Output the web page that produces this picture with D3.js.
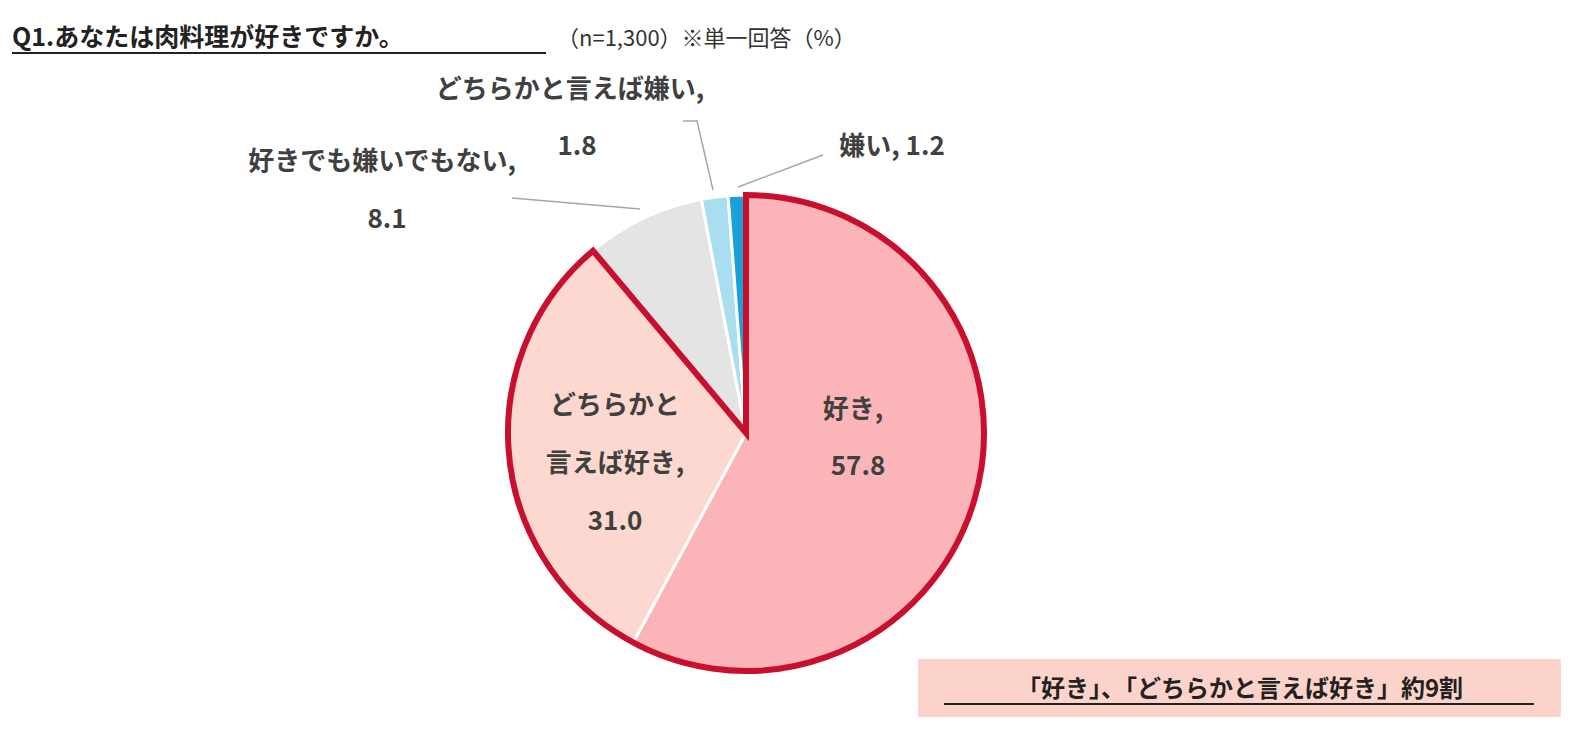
<!DOCTYPE html><html><head><meta charset="utf-8"><script src="https://cdn.jsdelivr.net/npm/d3@7"></script>
<style>body{margin:0;background:#fff}text{font-family:"Noto Sans CJK JP",sans-serif}</style></head><body>
<svg id="c" width="1570" height="733"></svg>
<script>
const categories=["好き","どちらかと言えば好き","好きでも嫌いでもない","どちらかと言えば嫌い","嫌い"];
const values=[57.8,31.0,8.1,1.8,1.2];
const colors=["#FBB5B9","#FDD8D1","#E4E4E4","#A9DDF0","#1BA1DA"];
const svg=d3.select("#c");
const cx=746,cy=433,r=238;
const pie=d3.pie().sort(null).value(d=>d)(values);
const arc=d3.arc().innerRadius(0).outerRadius(r);
const g=svg.append("g").attr("transform",`translate(${cx},${cy})`);
g.selectAll("path.s").data(pie).join("path").attr("d",arc).attr("fill",(d,i)=>colors[i]).attr("stroke","#fff").attr("stroke-width",3);
// red outline around first two
const combined={startAngle:pie[0].startAngle,endAngle:pie[1].endAngle};
g.append("path").attr("d",d3.arc().innerRadius(0).outerRadius(r)(combined)).attr("fill","none").attr("stroke","#C8102E").attr("stroke-width",6).attr("stroke-linejoin","miter");
const T=(x,y,s,size=26,anchor="middle",w="bold",fill="#404040")=>svg.append("text").attr("x",x).attr("y",y).attr("text-anchor",anchor).attr("font-size",size).attr("font-weight",w).attr("fill",fill).text(s);
T(853,418,categories[0]+",");T(858,475,values[0].toFixed(1));
T(615,414,"どちらかと");T(615,472,"言えば好き,");T(615,530,values[1].toFixed(1));
T(382,170,"好きでも嫌いでもない,");T(387,228,values[2].toFixed(1));
T(570,98,"どちらかと言えば嫌い,");T(577,155,values[3].toFixed(1));
T(892,155,categories[4]+", "+values[4].toFixed(1));
// leader lines
const ln=(pts)=>svg.append("path").attr("d",d3.line()(pts)).attr("fill","none").attr("stroke","#A6A6A6").attr("stroke-width",1.5);
ln([[512,198],[640,209]]);ln([[683,121],[697,121],[713,190]]);ln([[823,155],[738,187]]);
// title
T(12,46,"Q1.あなたは肉料理が好きですか。",25,"start");
svg.append("line").attr("x1",12).attr("x2",546).attr("y1",53).attr("y2",53).attr("stroke","#222").attr("stroke-width",2);
T(557,46,"（n=1,300）※単一回答（%）",22,"start","normal","#333");
svg.select("text:last-child");
svg.selectAll("text").filter(function(){return this.textContent.startsWith("Q1")}).attr("fill","#222");
// callout box
svg.append("rect").attr("x",918).attr("y",659).attr("width",643).attr("height",58).attr("fill","#FBD3CB");
T(1240,697,"「好き」、「どちらかと言えば好き」約9割",24,"middle","bold","#222");
svg.append("line").attr("x1",944).attr("x2",1534).attr("y1",704).attr("y2",704).attr("stroke","#222").attr("stroke-width",2);
</script></body></html>
